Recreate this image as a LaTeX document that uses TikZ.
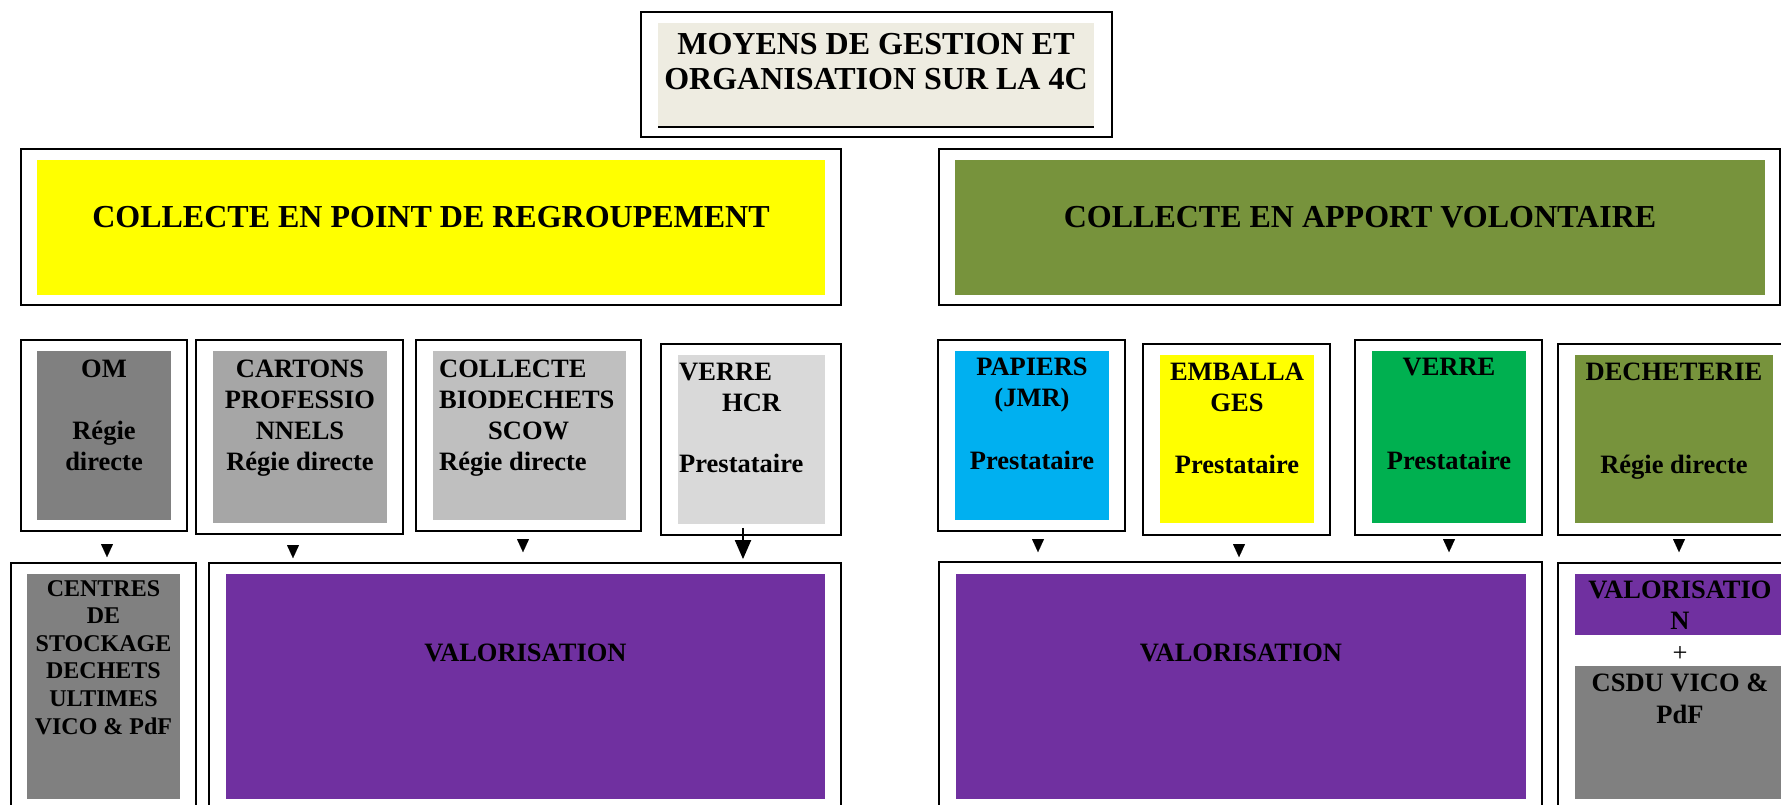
\documentclass[tikz,border=0pt]{standalone}
\usepackage{fontspec}
\setmainfont{Liberation Serif}
\usetikzlibrary{arrows.meta,calc,fit}
\definecolor{cbeige}{HTML}{EEECE1}
\definecolor{cyellow}{HTML}{FFFF00}
\definecolor{colive}{HTML}{77933C}
\definecolor{cgrayA}{HTML}{808080}
\definecolor{cgrayB}{HTML}{A6A6A6}
\definecolor{cgrayC}{HTML}{BFBFBF}
\definecolor{cgrayD}{HTML}{D9D9D9}
\definecolor{cblue}{HTML}{00B0F0}
\definecolor{cgreen}{HTML}{00B050}
\definecolor{cpurple}{HTML}{7030A0}
\begin{document}
\begin{tikzpicture}[x=1pt,y=-1pt,
  frame/.style={draw=black,line width=1.8pt,inner sep=0pt},
  bigtxt/.style={inner sep=0pt,align=center,font=\bfseries\fontsize{32}{35}\selectfont},
  txt/.style={inner sep=0pt,align=center,anchor=north,font=\bfseries\fontsize{26.5}{#1}\selectfont},
  smalltxt/.style={inner sep=0pt,align=center,anchor=north,font=\bfseries\fontsize{24}{27.6}\selectfont},
  tri/.style={-{Triangle[length=13pt,width=12pt]},line width=0.01pt},
  stemarrow/.style={-{Triangle[length=19pt,width=16pt]},line width=2pt}]
\useasboundingbox (0,0) rectangle (1781,804);
\clip (0,0) rectangle (1781,804);
\fill[white] (0,0) rectangle (1781,804);

% title
\node[frame,fit={(641,12)(1112,137)}] (tframe) {};
\fill[cbeige] (658,23) rectangle (1094,127);
\draw[line width=2pt] (658,127) -- (1094,127);
\node[bigtxt,anchor=north] (title) at (876,33.4) {MOYENS DE GESTION ET\\ORGANISATION SUR LA 4C};

% row 2
\node[frame,fit={(21,149)(841,305)}] (pr) {};
\fill[cyellow] (37,160) rectangle (825,295);
\node[bigtxt,anchor=base] (prt) at (431,227) {COLLECTE EN POINT DE REGROUPEMENT};
\node[frame,fit={(939,149)(1780,305)}] (av) {};
\fill[colive] (955,160) rectangle (1765,295);
\node[bigtxt,anchor=base] (avt) at (1360,227) {COLLECTE EN APPORT VOLONTAIRE};

% row 3 frames and fills
\node[frame,fit={(21,340)(187,531)}] (om) {};
\fill[cgrayA] (37,351) rectangle (171,520);
\node[frame,fit={(196,340)(403,534)}] (cart) {};
\fill[cgrayB] (213,351) rectangle (387,523);
\node[frame,fit={(416,340)(641,531)}] (bio) {};
\fill[cgrayC] (433,351) rectangle (626,520);
\node[frame,fit={(661,344)(841,535)}] (hcr) {};
\fill[cgrayD] (678,355) rectangle (825,524);
\node[frame,fit={(938,340)(1125,531)}] (pap) {};
\fill[cblue] (955,351) rectangle (1109,520);
\node[frame,fit={(1143,344)(1330,535)}] (emb) {};
\fill[cyellow] (1160,355) rectangle (1314,523);
\node[frame,fit={(1355,340)(1542,535)}] (ver) {};
\fill[cgreen] (1372,351) rectangle (1526,523);
\node[frame,fit={(1558,344)(1800,535)}] (dech) {};
\fill[colive] (1575,355) rectangle (1773,523);

% row 3 texts
\node[txt=31] (omt) at (104,360) {OM\\[31pt]Régie\\directe};
\node[txt=31] (cartt) at (300,359.5) {CARTONS\\PROFESSIO\\NNELS\\Régie directe};
\node[txt=31,align=left,anchor=north west] (biot) at (439,359.5) {COLLECTE\\BIODECHETS\\\hspace*{49pt}SCOW\\Régie directe};
\node[txt=30.7,align=left,anchor=north west] (hcrt) at (679,363.3) {VERRE\\\hspace*{43pt}HCR\\[30.7pt]Prestataire};
\node[txt=31.4] (papt) at (1032,357.8) {PAPIERS\\(JMR)\\[31.4pt]Prestataire};
\node[txt=31] (embt) at (1237,362.8) {EMBALLA\\GES\\[31pt]Prestataire};
\node[txt=31.3] (vert) at (1449,358.3) {VERRE\\[62.6pt]Prestataire};
\node[txt=31] (decht) at (1674,362.8) {DECHETERIE\\[62pt]Régie directe};

% row 4
\node[frame,fit={(11,563)(196,815)}] (cent) {};
\fill[cgrayA] (27,574) rectangle (180,799);
\node[smalltxt] (centt) at (103.5,580) {CENTRES\\DE\\STOCKAGE\\DECHETS\\ULTIMES\\VICO \& PdF};
\node[frame,fit={(209,563)(841,815)}] (valL) {};
\fill[cpurple] (226,574) rectangle (825,799);
\node[txt=30,anchor=base] (valLt) at (525.5,661) {VALORISATION};
\node[frame,fit={(939,562)(1542,815)}] (valR) {};
\fill[cpurple] (956,574) rectangle (1526,799);
\node[txt=30,anchor=base] (valRt) at (1241,661) {VALORISATION};
\node[frame,fit={(1558,563)(1800,815)}] (last) {};
\fill[cpurple] (1575,574) rectangle (1800,635);
\fill[cgrayA] (1575,666) rectangle (1800,799);
\node[txt=31] (lastv) at (1680,580.3) {VALORISATIO\\N};
\node[inner sep=0pt,font=\fontsize{26.5}{30}\selectfont] (plus) at (1680,654) {+};
\node[txt=32] (lastc) at (1680,673.8) {CSDU VICO \&\\PdF};

% connectors
\draw[tri] ($(om.south)+(3,14)$) -- ($(om.south |- cent.north)+(3,-5)$);
\draw[tri] ($(cart.south)+(-6.5,12)$) -- ($(cart.south |- valL.north)+(-6.5,-4)$);
\draw[tri] ($(bio.south)+(-5.5,9)$) -- ($(bio.south |- valL.north)+(-5.5,-10)$);
\draw[stemarrow] ($(hcr.south)+(-8,-8)$) -- ($(hcr.south |- valL.north)+(-8,-3)$);
\draw[tri] ($(pap.south)+(6.5,9)$) -- ($(pap.south |- valR.north)+(6.5,-9)$);
\draw[tri] ($(emb.south)+(2.5,10)$) -- ($(emb.south |- valR.north)+(2.5,-4)$);
\draw[tri] ($(ver.south)+(0.5,5)$) -- ($(ver.south |- valR.north)+(0.5,-9)$);
\draw[tri] ($(dech.south)+(0,5)$) -- ($(dech.south |- last.north)+(0,-10)$);
\end{tikzpicture}
\end{document}
